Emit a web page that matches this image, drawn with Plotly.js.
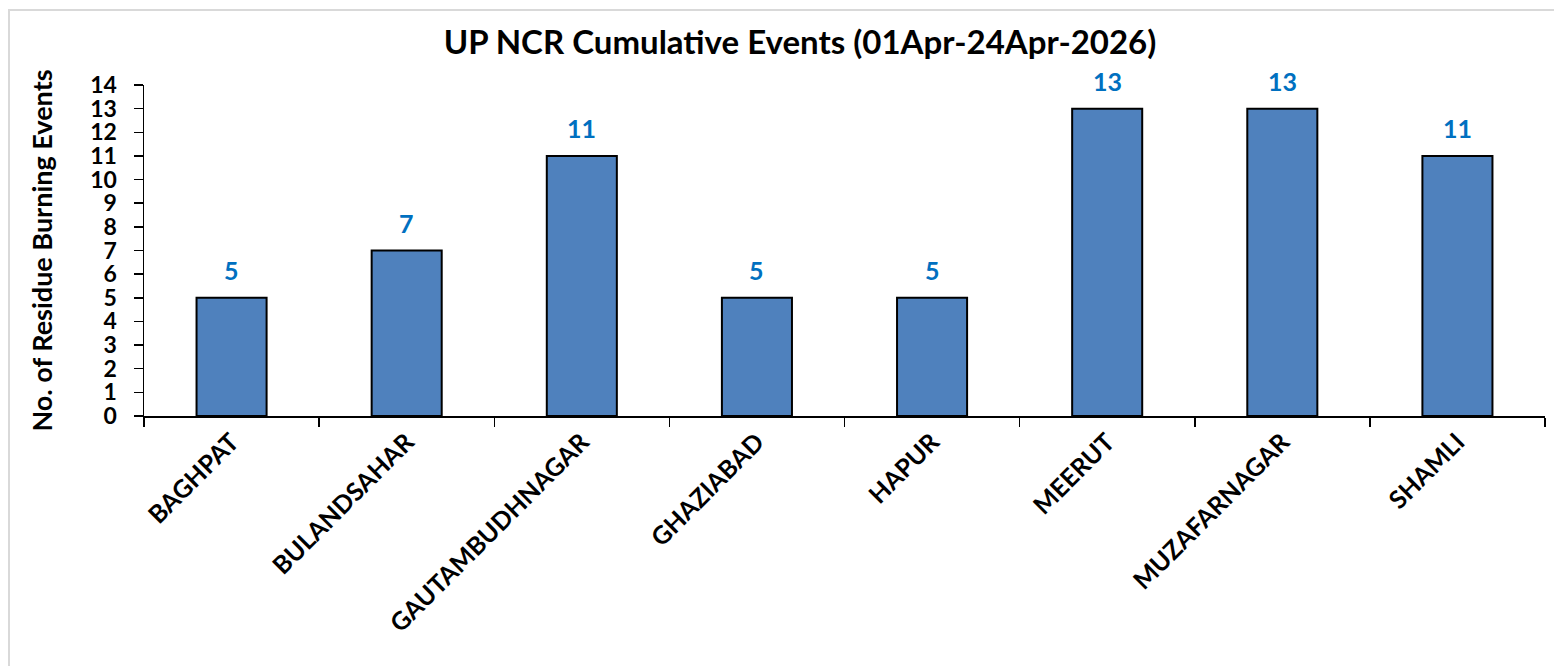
<!DOCTYPE html>
<html>
<head>
<meta charset="utf-8">
<script src="https://cdn.plot.ly/plotly-3.0.1.min.js"></script>
<style>html,body{margin:0;padding:0;background:#fff;}#chart{width:1554px;height:666px;}</style>
</head>
<body>
<div id="chart"></div>
<script>
const districts = ["BAGHPAT","BULANDSAHAR","GAUTAMBUDHNAGAR","GHAZIABAD","HAPUR","MEERUT","MUZAFARNAGAR","SHAMLI"];
const events = [5, 7, 11, 5, 5, 13, 13, 11];
const yTicks = [0,1,2,3,4,5,6,7,8,9,10,11,12,13,14];

const FONT = "Lato, 'Open Sans', sans-serif";
const L = 144, R = 9, T = 85, B = 250;
const plotW = 1554 - L - R, plotH = 666 - T - B;
const px = v => (v - L) / plotW;
const py = v => (666 - B - v) / plotH;

const trace = {
  type: 'bar',
  x: districts,
  y: events,
  marker: {color: '#4F81BD', line: {color: '#000000', width: 2}},
  hoverinfo: 'x+y'
};

const labels = districts.map((d, i) => ({
  x: d, y: events[i], xref: 'x', yref: 'y',
  text: '<b>' + events[i] + '</b>', showarrow: false,
  xanchor: 'center', yanchor: 'bottom', yshift: 11,
  font: {family: FONT, size: 25, color: '#0070C0'}
}));

const layout = {
  width: 1554, height: 666,
  margin: {l: L, r: R, t: T, b: B},
  paper_bgcolor: '#ffffff', plot_bgcolor: '#ffffff',
  showlegend: false,
  bargap: 0.6,
  title: {text: '<b>UP NCR Cumulative Events (01Apr-24Apr-2026)</b>', x: 0.5148, xanchor: 'center', y: 0.937, yanchor: 'middle',
          font: {family: FONT, size: 33, color: '#000000'}},
  xaxis: {
    type: 'category', automargin: false,
    showline: true, linecolor: '#000000', linewidth: 1.5,
    ticks: 'outside', tickson: 'boundaries', ticklen: 9, tickcolor: '#000000', tickwidth: 1.5,
    tickangle: -45,
    tickfont: {family: FONT, size: 25, color: '#000000', weight: 'bold'},
    showgrid: false, zeroline: false, fixedrange: true
  },
  yaxis: {
    range: [0, 14], automargin: false,
    tickmode: 'array', tickvals: yTicks, ticktext: yTicks.map(String),
    showline: true, linecolor: '#000000', linewidth: 1.5,
    ticks: 'outside', ticklen: 9, tickcolor: '#000000', tickwidth: 1.5,
    ticklabelstandoff: 12,
    tickfont: {family: FONT, size: 23, color: '#000000', weight: 'bold'},
    title: {text: '<b>No. of Residue Burning Events</b>', standoff: 30,
            font: {family: FONT, size: 27, color: '#000000'}},
    showgrid: false, zeroline: false, fixedrange: true
  },
  annotations: labels,
  shapes: [{
    type: 'rect', xref: 'paper', yref: 'paper',
    x0: px(9), x1: px(1600), y0: py(700), y1: py(10),
    line: {color: '#d9d9d9', width: 2}, fillcolor: 'rgba(0,0,0,0)', layer: 'below'
  }]
};

Plotly.newPlot('chart', [trace], layout, {displayModeBar: false, staticPlot: true});
</script>
</body>
</html>
